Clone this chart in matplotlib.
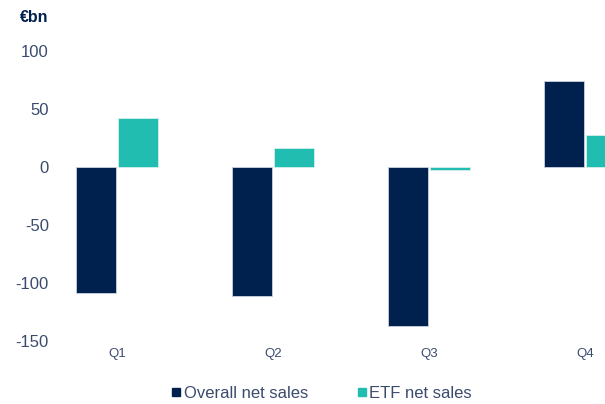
import matplotlib.pyplot as plt
from matplotlib.lines import Line2D
import numpy as np

# Datos (EUR bn)
trimestres = ["Q1", "Q2", "Q3", "Q4"]
overall_net_sales = [-109, -111, -137, 74]
etf_net_sales = [42, 16, -2.5, 28]

azul = "#00204e"
turquesa = "#22bdb1"
texto = "#3b4b6e"

plt.rcParams['font.family'] = ['Liberation Sans', 'DejaVu Sans']
plt.rcParams['axes.unicode_minus'] = False

fig = plt.figure(figsize=(6.05, 4.04), dpi=100)
ax = fig.add_axes([55 / 605, 63 / 404, 550 / 605, 290 / 404])

x = np.arange(len(trimestres))
ancho = 0.256
desp = 0.135

ax.bar(x - desp, overall_net_sales, ancho, color=azul, edgecolor="#c9d1dd",
       linewidth=0.6)
ax.bar(x + desp, etf_net_sales, ancho, color=turquesa, edgecolor="#d6efec",
       linewidth=0.6)

ax.set_xlim(-0.397, 3.128)
ax.set_ylim(-150, 100)
ax.set_yticks([-150, -100, -50, 0, 50, 100])
ax.set_xticks(x)
ax.set_xticklabels(trimestres)

for s in ax.spines.values():
    s.set_visible(False)
ax.tick_params(axis='y', length=0, pad=4.5, labelsize=12, labelcolor=texto)
ax.tick_params(axis='x', length=0, pad=5, labelsize=9.5, labelcolor=texto)

fig.text(20 / 605, 1 - 17 / 404, "€bn", fontsize=11.5, fontweight='bold',
         color=azul, va='center', ha='left')

# Leyenda con cuadrados
handles = [
    Line2D([], [], marker='s', linestyle='none', markersize=5.2, color=azul),
    Line2D([], [], marker='s', linestyle='none', markersize=5.2, color=turquesa),
]
fig.legend(handles, ["Overall net sales", "ETF net sales"], loc='center',
           bbox_to_anchor=(0.533, 11 / 404), ncol=2, frameon=False,
           fontsize=12, handlelength=0.42, handletextpad=0.25,
           columnspacing=3.0, labelcolor=texto)

fig.savefig("out.png", dpi=100)
